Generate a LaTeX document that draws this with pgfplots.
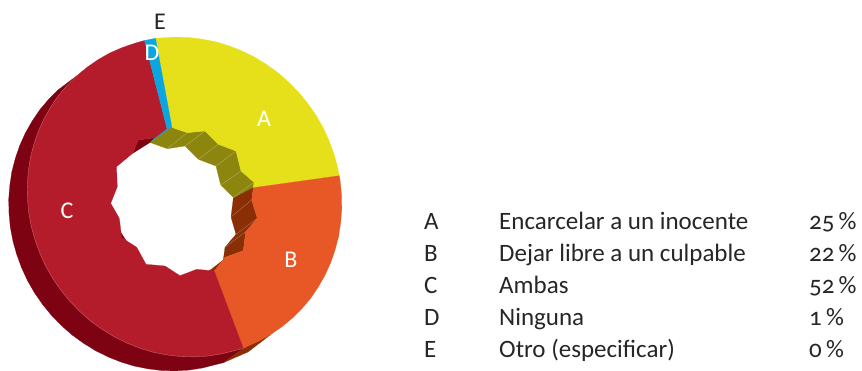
\documentclass[border=0pt]{standalone}
\usepackage{fontspec}
\setmainfont[Numbers=OldStyle]{Carlito}
\usepackage{pgfplots}
\pgfplotsset{compat=1.18}
\definecolor{yel}{HTML}{E6E01A}
\definecolor{ora}{HTML}{E85826}
\definecolor{red1}{HTML}{B51C2B}
\definecolor{dark}{HTML}{7E0312}
\definecolor{oli}{HTML}{8C860F}
\definecolor{bro}{HTML}{8A2E06}
\definecolor{blu}{HTML}{0BA5DF}
\definecolor{txt}{HTML}{262626}
\tikzset{
  pie/.style={fill=#1,draw=#1,line width=0.2pt,mark=none},
  seam/.style={draw=white,draw opacity=0.35,line width=0.35pt,mark=none},
  lab/.style={anchor=base west,inner sep=0,text=txt,font=\fontsize{25}{26}\selectfont},
  inlab/.style={anchor=center,inner sep=0,text=white,font=\fontsize{24}{26}\selectfont},
}
\begin{document}
\begin{tikzpicture}
\begin{axis}[
  width=862pt,height=371pt,scale only axis,
  xmin=0,xmax=862,ymin=0,ymax=371,y dir=reverse,
  hide axis,clip=false]
% keeps the page at the full size, hide axis alone shrinks it to the content
\path (axis cs:0,0) rectangle (axis cs:862,371);
% back of the ring
\addplot[pie=dark] coordinates {(76.5,76) (58,90) (48.4,99.6) (39.7,109.9) (32.1,121.2) (25.4,133) (19.7,145.6) (15.3,158.5) (11.8,171.9) (9.8,185.5) (8.7,199.3) (9,213.2) (10.3,227.1) (12.9,241) (16.7,254.5) (21.6,267.8) (27.5,280.6) (34.5,292.8) (42.7,304.6) (51.6,315.5) (61.5,325.6) (72.1,335) (83.5,343.2) (95.4,350.6) (108.1,356.9) (120.9,362) (134.3,366.1) (147.8,368.8) (161.5,370.5) (175.2,370.9) (188.8,370.1) (202.3,368) (223.3,362.7) (243.3,348.3) (190,340) (100,200)} -- cycle;
\addplot[pie=bro] coordinates {(271,334.3) (248,352) (223.3,362.7) (243.3,348.3)} -- cycle;
% inner walls
\addplot[pie=dark] coordinates {(138.3,140) (155,137.7) (150,142.5) (132.7,153.3)} -- cycle;
\addplot[pie=blu] coordinates {(167,128.5) (172,127.5) (150,142.7) (155,137.7)} -- cycle;
\addplot[pie=oli] coordinates {(172,127.5) (187.3,132.7) (205,131) (218.3,144.3) (236,151) (241,171) (254,182.3) (253.3,187.7) (233.5,201) (233.3,197.3) (220.7,185) (216,166) (198.3,159.3) (185,146) (167.3,148.7) (150,142.5)} -- cycle;
\addplot[pie=bro] coordinates {(253.3,187.7) (251.7,200) (257.3,218.3) (245.7,231.7) (243.3,250.7) (225,257.3) (214.3,271) (209,271) (223.3,260) (225,247.3) (236,234.3) (231,217) (233.3,198.3)} -- cycle;
% seams on the walls
\addplot[seam] coordinates {(187.3,132.7) (167.3,148.7)};
\addplot[seam] coordinates {(205,131) (185,146)};
\addplot[seam] coordinates {(218.3,144.3) (198.3,159.3)};
\addplot[seam] coordinates {(236,151) (216,166)};
\addplot[seam] coordinates {(241,171) (220.7,185)};
\addplot[seam] coordinates {(254,182.3) (233.3,197.3)};
\addplot[seam] coordinates {(251.7,200) (231,217)};
\addplot[seam] coordinates {(257.3,218.3) (236,234.3)};
\addplot[seam] coordinates {(245.7,231.7) (225,247.3)};
% top face
\addplot[pie=yel] coordinates {(155.5,38.3) (161.7,37.9) (175.3,37.1) (189,37.5) (202.7,39.2) (216.2,41.9) (229.6,46) (242.4,51.1) (255.1,57.4) (267,64.8) (278.4,73) (289,82.4) (298.9,92.5) (307.8,103.4) (316,115.2) (323,127.4) (328.9,140.2) (333.8,153.5) (337.6,167) (339.3,175.7) (253.3,187.7) (254,182.3) (241,171) (236,151) (218.3,144.3) (205,131) (187.3,132.7) (172,127.5)} -- cycle;
\addplot[pie=ora] coordinates {(339.3,175.7) (340.2,180.9) (341.5,194.8) (341.8,208.7) (340.7,222.5) (338.7,236.1) (335.2,249.5) (330.8,262.4) (325.1,275) (318.4,286.8) (310.8,298.1) (302.1,308.4) (292.5,318) (282.1,326.6) (271,334.3) (259.2,341) (246.9,346.4) (243.3,348.3) (214.3,271) (225,257.3) (243.3,250.7) (245.7,231.7) (257.3,218.3) (251.7,200) (253.3,187.7)} -- cycle;
\addplot[pie=red1] coordinates {(243.3,348.3) (234,350.8) (220.8,354) (207.3,356.1) (193.7,356.9) (180,356.5) (166.3,354.8) (152.8,352.1) (139.4,348) (126.6,342.9) (113.9,336.6) (102,329.2) (90.6,321) (80,311.6) (70.1,301.5) (61.2,290.6) (53,278.8) (46,266.6) (40.1,253.8) (35.2,240.5) (31.4,227) (28.8,213.1) (27.5,199.2) (27.2,185.3) (28.3,171.5) (30.3,157.9) (33.8,144.5) (38.2,131.6) (43.9,119) (50.6,107.2) (58.2,95.9) (66.9,85.6) (76.5,76) (86.9,67.4) (98,59.7) (109.8,53) (122.1,47.6) (135,43.2) (144.5,40.5) (167,128.5) (155,137.7) (138.3,140) (132.7,153.3) (116.5,166.7) (117.3,186.7) (110.7,203.3) (119.3,218.3) (121.7,237.7) (136.7,247.3) (146,264.3) (165,266) (180,275.7) (196.7,269.3) (214.3,271)} -- cycle;
\addplot[pie=blu] coordinates {(144.5,40.5) (155.5,38.3) (172,127.5) (167,128.5)} -- cycle;
% pale rim along the back edge
\addplot[seam] coordinates {(243.3,348.3) (234,350.8) (220.8,354) (207.3,356.1) (193.7,356.9) (180,356.5) (166.3,354.8) (152.8,352.1) (139.4,348) (126.6,342.9) (113.9,336.6) (102,329.2) (90.6,321) (80,311.6) (70.1,301.5) (61.2,290.6) (53,278.8) (46,266.6) (40.1,253.8) (35.2,240.5) (31.4,227) (28.8,213.1) (27.5,199.2) (27.2,185.3) (28.3,171.5) (30.3,157.9) (33.8,144.5) (38.2,131.6) (43.9,119) (50.6,107.2) (58.2,95.9) (66.9,85.6) (76.5,76)};
% slice labels
\node[inlab] at (axis cs:264,119) {A};
\node[inlab] at (axis cs:291,260) {B};
\node[inlab] at (axis cs:67,211) {C};
\node[inlab] at (axis cs:152,53) {D};
\node[inlab,text=txt] at (axis cs:160,22) {E};
% key
\node[lab] at (axis cs:424,230) {A};
\node[lab] at (axis cs:499,230) {Encarcelar a un inocente};
\node[lab] at (axis cs:809,230) {25\,\%};
\node[lab] at (axis cs:424,262) {B};
\node[lab] at (axis cs:499,262) {Dejar libre a un culpable};
\node[lab] at (axis cs:809,262) {22\,\%};
\node[lab] at (axis cs:424,293.5) {C};
\node[lab] at (axis cs:499,293.5) {Ambas};
\node[lab] at (axis cs:809,293.5) {52\,\%};
\node[lab] at (axis cs:424,325) {D};
\node[lab] at (axis cs:499,325) {Ninguna};
\node[lab] at (axis cs:809,325) {1\,\%};
\node[lab] at (axis cs:424,357) {E};
\node[lab] at (axis cs:499,357) {Otro (especificar)};
\node[lab] at (axis cs:809,357) {0\,\%};
\end{axis}
\end{tikzpicture}
\end{document}
